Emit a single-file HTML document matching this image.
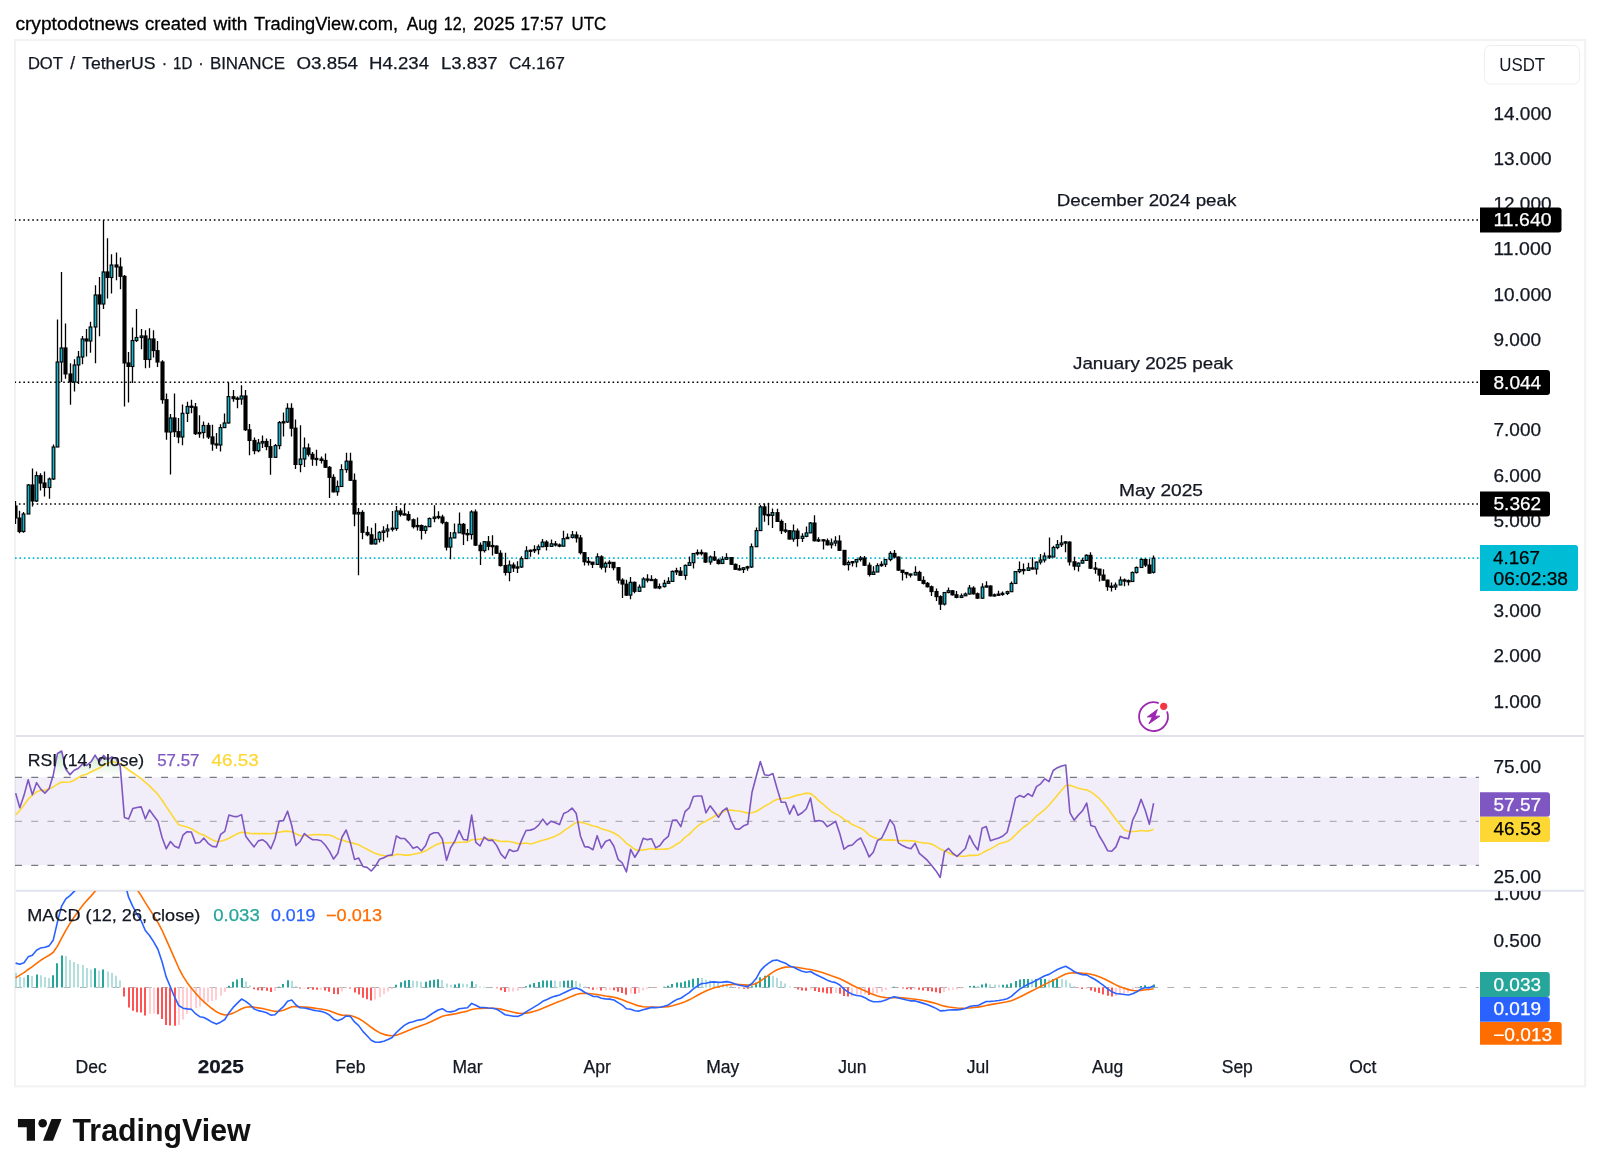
<!DOCTYPE html>
<html><head><meta charset="utf-8"><title>DOT / TetherUS chart</title>
<style>
html,body{margin:0;padding:0;background:#fff;}
body{width:1600px;height:1175px;position:relative;overflow:hidden;font-family:"Liberation Sans", Arial, sans-serif;}
svg{position:absolute;left:0;top:0;will-change:transform;}
</style></head><body>
<svg width="1600" height="1175" viewBox="0 0 1600 1175" font-family='"Liberation Sans", Arial, sans-serif'>
<defs>
<clipPath id="cMain"><rect x="15" y="40" width="1464" height="695.5"/></clipPath>
<clipPath id="cRsi"><rect x="15" y="736.3" width="1464" height="153.7"/></clipPath>
<clipPath id="cMacd"><rect x="15" y="891" width="1464" height="157"/></clipPath>
<clipPath id="cMacdAx"><rect x="1480" y="891" width="105" height="60"/></clipPath>
</defs>
<rect x="0" y="0" width="1600" height="1175" fill="#fff"/>
<text y="29.5" font-size="18" fill="#000" stroke="#000" stroke-width="0.3"><tspan x="15.4" textLength="123.5" lengthAdjust="spacingAndGlyphs">cryptodotnews</tspan><tspan x="145.1" textLength="61.6" lengthAdjust="spacingAndGlyphs">created</tspan><tspan x="213.5" textLength="33.9" lengthAdjust="spacingAndGlyphs">with</tspan><tspan x="254.0" textLength="144.0" lengthAdjust="spacingAndGlyphs">TradingView.com,</tspan><tspan x="406.8" textLength="30.5" lengthAdjust="spacingAndGlyphs">Aug</tspan><tspan x="443.8" textLength="22.4" lengthAdjust="spacingAndGlyphs">12,</tspan><tspan x="473.2" textLength="41.6" lengthAdjust="spacingAndGlyphs">2025</tspan><tspan x="520.6" textLength="42.8" lengthAdjust="spacingAndGlyphs">17:57</tspan><tspan x="571.5" textLength="34.7" lengthAdjust="spacingAndGlyphs">UTC</tspan></text>
<rect x="15" y="40" width="1570.2" height="1046.4" fill="#fff" stroke="#f2f2f2" stroke-width="2"/>
<line x1="16" y1="736" x2="1584.2" y2="736" stroke="#e0e3eb" stroke-width="1.9"/>
<line x1="16" y1="890.7" x2="1584.2" y2="890.7" stroke="#e0e3eb" stroke-width="1.9"/>
<rect x="1484.5" y="45.5" width="95" height="38.5" rx="6" fill="#fff" stroke="#eeeeee"/>
<text x="1499.2" y="71" font-size="17.8" fill="#131722" textLength="46" lengthAdjust="spacingAndGlyphs">USDT</text>
<g clip-path="url(#cMain)">
<line x1="15" y1="220.0" x2="1479" y2="220.0" stroke="#000" stroke-width="1.6" stroke-dasharray="1.6 2.83" stroke-dashoffset="0.5"/>
<line x1="15" y1="382.25" x2="1479" y2="382.25" stroke="#000" stroke-width="1.6" stroke-dasharray="1.6 2.83" stroke-dashoffset="0.5"/>
<line x1="15" y1="504.0" x2="1479" y2="504.0" stroke="#000" stroke-width="1.6" stroke-dasharray="1.6 2.83" stroke-dashoffset="0.5"/>
<line x1="15" y1="558.1" x2="1479" y2="558.1" stroke="#00bcd4" stroke-width="1.6" stroke-dasharray="1.6 2.83"/>
<text x="1056.8" y="206.4" font-size="16.8" fill="#131722" textLength="179.6" lengthAdjust="spacingAndGlyphs" stroke="#131722" stroke-width="0.25">December 2024 peak</text>
<text x="1073" y="368.5" font-size="16.8" fill="#131722" textLength="160" lengthAdjust="spacingAndGlyphs" stroke="#131722" stroke-width="0.25">January 2025 peak</text>
<text x="1119" y="496" font-size="16.8" fill="#131722" textLength="84" lengthAdjust="spacingAndGlyphs" stroke="#131722" stroke-width="0.25">May 2025</text>
<path d="M15.50 501.0V524.0M19.50 510.7V533.3M23.50 512.0V532.7M28.50 484.0V514.0M32.50 468.5V506.5M36.50 471.4V502.0M40.50 473.2V490.5M44.50 471.4V496.4M49.50 477.4V498.8M53.50 444.6V480.0M57.50 319.6V447.0M61.50 272.0V382.0M65.50 323.5V378.7M70.50 363.2V404.7M74.50 359.3V391.4M78.50 351.0V384.0M82.50 336.0V364.3M86.50 329.0V356.6M90.50 321.8V352.7M95.50 285.3V363.2M99.50 277.0V336.2M103.50 220.0V309.1M107.50 238.2V298.6M111.50 254.3V293.6M116.50 252.6V280.3M120.50 257.6V289.2M124.50 275.0V406.4M128.50 352.0V402.5M132.50 327.4V383.0M136.50 309.0V342.0M141.50 328.9V349.3M145.50 330.2V368.3M149.50 328.2V367.7M153.50 330.2V357.4M157.50 341.1V367.0M162.50 360.2V403.7M166.50 393.5V439.8M170.50 414.0V474.5M174.50 393.5V437.0M178.50 418.0V443.2M182.50 404.4V445.3M187.50 401.7V422.0M191.50 399.7V413.3M195.50 403.0V435.0M199.50 415.3V437.8M203.50 421.4V438.5M208.50 422.8V439.0M212.50 424.8V450.7M216.50 433.0V448.7M220.50 424.2V451.4M224.50 413.4V428.0M228.50 382.3V423.5M233.50 390.0V401.7M237.50 396.6V408.3M241.50 385.3V404.7M245.50 390.0V431.0M249.50 424.1V455.3M254.50 437.4V454.3M258.50 439.0V452.2M262.50 435.4V448.1M266.50 438.4V450.2M270.50 439.0V474.7M275.50 444.0V458.0M279.50 421.0V449.2M283.50 412.4V436.4M287.50 403.2V423.0M291.50 403.2V436.4M295.50 419.5V469.1M300.50 425.2V472.2M304.50 437.4V467.0M308.50 443.6V456.6M312.50 452.0V465.8M316.50 449.7V465.8M321.50 456.6V463.5M325.50 453.6V468.0M329.50 466.0V498.0M333.50 474.2V492.6M337.50 480.4V495.7M341.50 464.3V487.0M346.50 452.8V472.7M350.50 452.8V481.0M354.50 473.5V526.3M358.50 507.9V575.3M362.50 510.2V539.3M367.50 526.3V536.2M371.50 527.8V544.6M375.50 523.2V544.5M379.50 530.9V542.4M383.50 526.3V541.6M387.50 524.3V537.5M392.50 511.0V531.4M396.50 505.9V530.7M400.50 508.3V516.4M404.50 503.9V515.4M408.50 511.3V521.2M413.50 518.5V528.4M417.50 517.5V530.4M421.50 524.6V539.6M425.50 525.6V533.8M429.50 517.5V527.0M434.50 505.2V522.2M438.50 511.3V519.2M442.50 514.7V524.3M446.50 521.5V550.5M450.50 532.1V559.3M454.50 523.6V538.2M459.50 512.4V533.1M463.50 523.0V545.0M467.50 529.0V541.3M471.50 510.3V539.6M475.50 509.6V546.0M480.50 542.5V565.1M484.50 541.0V552.5M488.50 536.0V550.2M492.50 535.2V555.5M496.50 545.6V554.0M500.50 550.2V566.6M505.50 552.8V575.4M509.50 560.5V581.2M513.50 562.4V572.0M517.50 561.3V573.1M521.50 556.3V568.0M526.50 546.3V559.0M530.50 549.4V556.7M534.50 545.2V553.0M538.50 544.4V554.4M542.50 539.0V547.0M546.50 540.2V550.6M551.50 539.4V547.0M555.50 541.0V546.4M559.50 543.4V547.2M563.50 530.7V546.2M567.50 533.4V539.1M572.50 531.1V538.4M576.50 531.5V542.6M580.50 535.0V554.5M584.50 552.0V565.6M588.50 557.0V565.6M592.50 562.0V567.9M597.50 553.3V564.5M601.50 555.2V569.4M605.50 561.4V572.5M609.50 560.2V567.9M613.50 562.4V570.2M618.50 567.0V583.6M622.50 578.2V598.1M626.50 579.7V596.0M630.50 577.1V599.3M634.50 581.5V593.3M639.50 584.5V592.0M643.50 577.3V587.1M647.50 574.2V582.4M651.50 575.3V581.0M655.50 578.3V588.5M659.50 583.4V589.2M664.50 579.7V587.5M668.50 577.3V584.0M672.50 570.5V582.0M676.50 567.8V574.9M680.50 567.1V576.0M685.50 564.5V579.7M689.50 556.5V565.5M693.50 553.0V568.5M697.50 549.4V555.5M701.50 549.4V555.5M705.50 552.5V563.0M710.50 555.5V564.7M714.50 550.9V561.0M718.50 558.5V564.5M722.50 556.3V563.5M726.50 553.2V559.3M731.50 557.5V565.0M735.50 563.5V570.0M739.50 565.1V570.4M743.50 567.0V573.1M747.50 565.8V570.8M751.50 543.6V568.0M756.50 527.6V547.0M760.50 505.0V531.0M764.50 503.4V521.8M768.50 502.7V525.3M772.50 508.4V527.9M777.50 508.8V522.0M781.50 519.5V534.1M785.50 523.0V532.9M789.50 530.0V539.4M793.50 524.5V541.7M797.50 528.5V546.5M802.50 533.3V542.1M806.50 526.4V537.3M810.50 522.0V533.0M814.50 515.2V541.5M818.50 537.3V542.1M823.50 539.0V549.6M827.50 538.4V545.5M831.50 538.4V548.6M835.50 536.3V546.2M839.50 535.3V551.0M844.50 550.0V565.5M848.50 560.5V570.4M852.50 561.5V566.6M856.50 559.0V567.3M860.50 556.0V561.5M864.50 556.0V566.0M869.50 562.5V576.5M873.50 566.3V575.0M877.50 563.3V572.0M881.50 561.2V566.7M885.50 559.0V567.0M890.50 551.3V561.2M894.50 550.0V558.5M898.50 556.5V571.0M902.50 570.0V580.6M906.50 572.0V578.2M910.50 573.5V577.5M915.50 566.3V575.2M919.50 570.7V581.0M923.50 576.2V584.4M927.50 582.0V587.5M931.50 585.5V595.9M936.50 588.4V601.0M940.50 595.2V609.9M944.50 592.0V605.5M948.50 587.5V593.2M952.50 590.1V595.5M956.50 591.0V598.2M961.50 593.4V598.0M965.50 592.5V596.0M969.50 584.9V594.5M973.50 586.3V594.5M977.50 592.4V599.0M982.50 583.2V598.5M986.50 581.2V587.5M990.50 585.2V596.5M994.50 593.5V596.5M998.50 590.7V595.5M1002.50 591.4V595.8M1007.50 590.7V595.1M1011.50 581.5V591.7M1015.50 571.0V583.5M1019.50 561.4V573.3M1023.50 563.5V574.4M1028.50 562.8V570.5M1032.50 557.3V569.6M1036.50 561.5V574.4M1040.50 553.9V564.5M1044.50 552.6V562.4M1049.50 537.6V559.0M1053.50 545.8V557.0M1057.50 540.0V549.2M1061.50 535.2V547.1M1065.50 541.0V552.2M1069.50 541.5V565.5M1074.50 556.7V570.3M1078.50 562.5V571.6M1082.50 557.7V563.5M1086.50 554.3V560.5M1090.50 552.2V569.0M1095.50 562.1V573.7M1099.50 569.0V581.5M1103.50 569.2V580.5M1107.50 579.5V590.7M1111.50 582.5V591.4M1115.50 582.5V590.0M1120.50 576.6V585.0M1124.50 578.4V586.2M1128.50 579.4V585.6M1132.50 571.6V581.5M1136.50 566.6V573.4M1141.50 558.4V567.5M1145.50 558.4V566.9M1149.50 559.0V573.5M1153.50 555.6V573.5" stroke="#000" stroke-width="1.3" fill="none"/>
<g fill="#000"><rect x="13.45" y="505.4" width="4.1" height="13.1"/><rect x="17.45" y="517.5" width="4.1" height="14.6"/><rect x="30.45" y="484.4" width="4.1" height="17.1"/><rect x="38.45" y="475.1" width="4.1" height="8.5"/><rect x="42.45" y="482.4" width="4.1" height="5.6"/><rect x="63.45" y="347.4" width="4.1" height="27.1"/><rect x="68.45" y="373.4" width="4.1" height="9.1"/><rect x="84.45" y="338.4" width="4.1" height="3.1"/><rect x="97.45" y="294.4" width="4.1" height="10.1"/><rect x="105.45" y="271.4" width="4.1" height="6.6"/><rect x="114.45" y="264.4" width="4.1" height="3.1"/><rect x="118.45" y="266.4" width="4.1" height="10.5"/><rect x="122.45" y="275.8" width="4.1" height="87.7"/><rect x="126.45" y="362.4" width="4.1" height="4.6"/><rect x="143.45" y="335.4" width="4.1" height="24.6"/><rect x="151.45" y="338.4" width="4.1" height="12.7"/><rect x="155.45" y="350.1" width="4.1" height="12.5"/><rect x="160.45" y="361.4" width="4.1" height="38.8"/><rect x="164.45" y="399.1" width="4.1" height="33.4"/><rect x="172.45" y="417.4" width="4.1" height="14.8"/><rect x="176.45" y="431.1" width="4.1" height="6.4"/><rect x="189.45" y="405.6" width="4.1" height="2.3"/><rect x="193.45" y="406.4" width="4.1" height="27.8"/><rect x="206.45" y="424.9" width="4.1" height="12.6"/><rect x="210.45" y="436.4" width="4.1" height="8.1"/><rect x="214.45" y="443.3" width="4.1" height="2.3"/><rect x="231.45" y="396.1" width="4.1" height="3.1"/><rect x="235.45" y="397.6" width="4.1" height="2.3"/><rect x="243.45" y="395.4" width="4.1" height="34.9"/><rect x="247.45" y="429.2" width="4.1" height="11.8"/><rect x="252.45" y="439.9" width="4.1" height="11.3"/><rect x="264.45" y="440.9" width="4.1" height="6.2"/><rect x="268.45" y="446.1" width="4.1" height="11.8"/><rect x="289.45" y="407.8" width="4.1" height="21.0"/><rect x="293.45" y="427.6" width="4.1" height="37.4"/><rect x="306.45" y="447.4" width="4.1" height="7.4"/><rect x="310.45" y="453.8" width="4.1" height="5.8"/><rect x="319.45" y="458.4" width="4.1" height="2.6"/><rect x="323.45" y="459.9" width="4.1" height="7.9"/><rect x="327.45" y="466.8" width="4.1" height="11.1"/><rect x="331.45" y="476.8" width="4.1" height="15.6"/><rect x="348.45" y="460.6" width="4.1" height="20.3"/><rect x="352.45" y="479.8" width="4.1" height="34.7"/><rect x="360.45" y="511.9" width="4.1" height="21.0"/><rect x="365.45" y="531.9" width="4.1" height="3.4"/><rect x="369.45" y="534.2" width="4.1" height="10.3"/><rect x="398.45" y="510.4" width="4.1" height="4.5"/><rect x="402.45" y="513.3" width="4.1" height="2.3"/><rect x="406.45" y="514.0" width="4.1" height="6.4"/><rect x="411.45" y="519.2" width="4.1" height="8.0"/><rect x="419.45" y="525.0" width="4.1" height="6.0"/><rect x="440.45" y="516.5" width="4.1" height="6.7"/><rect x="444.45" y="522.1" width="4.1" height="25.6"/><rect x="461.45" y="523.8" width="4.1" height="10.6"/><rect x="465.45" y="533.0" width="4.1" height="2.3"/><rect x="473.45" y="511.4" width="4.1" height="34.3"/><rect x="478.45" y="544.7" width="4.1" height="6.5"/><rect x="486.45" y="541.2" width="4.1" height="5.7"/><rect x="494.45" y="545.5" width="4.1" height="8.3"/><rect x="498.45" y="552.7" width="4.1" height="13.4"/><rect x="503.45" y="565.0" width="4.1" height="8.0"/><rect x="511.45" y="564.5" width="4.1" height="4.0"/><rect x="544.45" y="541.5" width="4.1" height="5.5"/><rect x="553.45" y="543.3" width="4.1" height="2.3"/><rect x="557.45" y="544.4" width="4.1" height="2.3"/><rect x="574.45" y="534.4" width="4.1" height="4.1"/><rect x="578.45" y="537.4" width="4.1" height="15.8"/><rect x="582.45" y="552.1" width="4.1" height="10.2"/><rect x="586.45" y="560.8" width="4.1" height="2.3"/><rect x="590.45" y="561.6" width="4.1" height="3.3"/><rect x="599.45" y="556.3" width="4.1" height="11.5"/><rect x="611.45" y="561.8" width="4.1" height="6.4"/><rect x="616.45" y="567.1" width="4.1" height="13.5"/><rect x="620.45" y="579.5" width="4.1" height="5.1"/><rect x="624.45" y="583.6" width="4.1" height="12.1"/><rect x="632.45" y="581.8" width="4.1" height="10.1"/><rect x="645.45" y="578.4" width="4.1" height="2.4"/><rect x="653.45" y="579.1" width="4.1" height="9.4"/><rect x="678.45" y="570.6" width="4.1" height="5.3"/><rect x="703.45" y="552.5" width="4.1" height="10.1"/><rect x="712.45" y="556.5" width="4.1" height="4.1"/><rect x="716.45" y="559.5" width="4.1" height="4.6"/><rect x="729.45" y="557.0" width="4.1" height="7.9"/><rect x="733.45" y="563.8" width="4.1" height="6.1"/><rect x="737.45" y="568.2" width="4.1" height="2.3"/><rect x="762.45" y="506.3" width="4.1" height="9.1"/><rect x="766.45" y="513.9" width="4.1" height="2.3"/><rect x="775.45" y="512.1" width="4.1" height="9.9"/><rect x="779.45" y="520.9" width="4.1" height="10.3"/><rect x="787.45" y="530.1" width="4.1" height="9.5"/><rect x="795.45" y="530.5" width="4.1" height="8.5"/><rect x="812.45" y="522.5" width="4.1" height="18.8"/><rect x="821.45" y="539.2" width="4.1" height="2.3"/><rect x="825.45" y="540.2" width="4.1" height="5.2"/><rect x="837.45" y="540.5" width="4.1" height="10.4"/><rect x="842.45" y="549.8" width="4.1" height="15.4"/><rect x="862.45" y="557.5" width="4.1" height="8.3"/><rect x="867.45" y="564.7" width="4.1" height="10.3"/><rect x="892.45" y="552.9" width="4.1" height="4.7"/><rect x="896.45" y="556.5" width="4.1" height="14.2"/><rect x="900.45" y="569.6" width="4.1" height="3.4"/><rect x="904.45" y="571.9" width="4.1" height="2.7"/><rect x="908.45" y="573.4" width="4.1" height="2.3"/><rect x="917.45" y="571.9" width="4.1" height="9.0"/><rect x="921.45" y="579.8" width="4.1" height="4.1"/><rect x="925.45" y="582.8" width="4.1" height="4.5"/><rect x="929.45" y="586.2" width="4.1" height="5.9"/><rect x="934.45" y="591.0" width="4.1" height="6.2"/><rect x="938.45" y="596.1" width="4.1" height="8.6"/><rect x="950.45" y="590.2" width="4.1" height="5.2"/><rect x="954.45" y="594.2" width="4.1" height="3.8"/><rect x="971.45" y="587.5" width="4.1" height="6.9"/><rect x="975.45" y="593.2" width="4.1" height="5.5"/><rect x="988.45" y="585.5" width="4.1" height="10.9"/><rect x="1021.45" y="568.9" width="4.1" height="2.3"/><rect x="1030.45" y="567.3" width="4.1" height="2.3"/><rect x="1047.45" y="555.4" width="4.1" height="2.3"/><rect x="1067.45" y="541.5" width="4.1" height="20.9"/><rect x="1072.45" y="561.2" width="4.1" height="5.5"/><rect x="1088.45" y="554.8" width="4.1" height="14.0"/><rect x="1093.45" y="567.5" width="4.1" height="2.3"/><rect x="1097.45" y="568.5" width="4.1" height="7.1"/><rect x="1101.45" y="574.5" width="4.1" height="6.2"/><rect x="1105.45" y="579.6" width="4.1" height="7.6"/><rect x="1109.45" y="585.6" width="4.1" height="2.3"/><rect x="1122.45" y="579.4" width="4.1" height="2.3"/><rect x="1126.45" y="580.1" width="4.1" height="2.3"/><rect x="1143.45" y="558.9" width="4.1" height="6.7"/><rect x="1147.45" y="564.5" width="4.1" height="9.2"/></g>
<g fill="#00bcd4" stroke="#000" stroke-width="1.15"><rect x="22.15" y="514.0" width="2.7" height="17.5"/><rect x="27.15" y="485.0" width="2.7" height="29.0"/><rect x="35.15" y="475.6" width="2.7" height="25.4"/><rect x="48.15" y="479.0" width="2.7" height="8.5"/><rect x="52.15" y="447.0" width="2.7" height="32.0"/><rect x="56.15" y="362.0" width="2.7" height="85.0"/><rect x="60.15" y="348.0" width="2.7" height="14.0"/><rect x="73.15" y="365.0" width="2.7" height="17.0"/><rect x="77.15" y="357.0" width="2.7" height="8.0"/><rect x="81.15" y="339.0" width="2.7" height="18.0"/><rect x="89.15" y="327.0" width="2.7" height="14.0"/><rect x="94.15" y="295.0" width="2.7" height="32.0"/><rect x="102.15" y="272.0" width="2.7" height="32.0"/><rect x="110.15" y="265.0" width="2.7" height="12.5"/><rect x="131.15" y="340.5" width="2.7" height="26.0"/><rect x="135.15" y="337.5" width="2.7" height="3.0"/><rect x="140.15" y="336.0" width="2.7" height="1.5"/><rect x="148.15" y="339.0" width="2.7" height="20.5"/><rect x="169.15" y="418.0" width="2.7" height="14.0"/><rect x="181.15" y="413.3" width="2.7" height="23.7"/><rect x="186.15" y="406.5" width="2.7" height="6.8"/><rect x="198.15" y="432.5" width="2.7" height="1.2"/><rect x="202.15" y="425.5" width="2.7" height="7.0"/><rect x="219.15" y="427.6" width="2.7" height="17.4"/><rect x="223.15" y="423.0" width="2.7" height="4.6"/><rect x="227.15" y="396.6" width="2.7" height="26.4"/><rect x="240.15" y="396.0" width="2.7" height="3.0"/><rect x="257.15" y="443.0" width="2.7" height="7.7"/><rect x="261.15" y="441.5" width="2.7" height="1.5"/><rect x="274.15" y="445.6" width="2.7" height="11.7"/><rect x="278.15" y="422.6" width="2.7" height="23.0"/><rect x="282.15" y="421.7" width="2.7" height="1.2"/><rect x="286.15" y="408.3" width="2.7" height="13.7"/><rect x="299.15" y="459.0" width="2.7" height="5.5"/><rect x="303.15" y="448.0" width="2.7" height="11.0"/><rect x="315.15" y="458.4" width="2.7" height="1.2"/><rect x="336.15" y="486.5" width="2.7" height="5.3"/><rect x="340.15" y="469.6" width="2.7" height="16.9"/><rect x="345.15" y="461.2" width="2.7" height="8.4"/><rect x="357.15" y="512.5" width="2.7" height="1.5"/><rect x="374.15" y="539.3" width="2.7" height="4.6"/><rect x="378.15" y="532.4" width="2.7" height="6.9"/><rect x="382.15" y="531.0" width="2.7" height="1.4"/><rect x="386.15" y="529.0" width="2.7" height="2.0"/><rect x="391.15" y="528.1" width="2.7" height="1.2"/><rect x="395.15" y="511.0" width="2.7" height="17.5"/><rect x="416.15" y="525.5" width="2.7" height="1.2"/><rect x="424.15" y="526.7" width="2.7" height="3.7"/><rect x="428.15" y="518.5" width="2.7" height="8.2"/><rect x="433.15" y="517.0" width="2.7" height="1.5"/><rect x="437.15" y="516.4" width="2.7" height="1.2"/><rect x="449.15" y="537.9" width="2.7" height="9.2"/><rect x="453.15" y="532.8" width="2.7" height="5.1"/><rect x="458.15" y="524.3" width="2.7" height="8.5"/><rect x="470.15" y="512.0" width="2.7" height="22.5"/><rect x="483.15" y="541.7" width="2.7" height="8.9"/><rect x="491.15" y="545.5" width="2.7" height="1.2"/><rect x="508.15" y="565.0" width="2.7" height="7.4"/><rect x="516.15" y="566.9" width="2.7" height="1.2"/><rect x="520.15" y="558.6" width="2.7" height="8.4"/><rect x="525.15" y="550.9" width="2.7" height="7.7"/><rect x="529.15" y="550.2" width="2.7" height="1.2"/><rect x="533.15" y="549.5" width="2.7" height="1.2"/><rect x="537.15" y="546.8" width="2.7" height="2.8"/><rect x="541.15" y="542.1" width="2.7" height="4.7"/><rect x="550.15" y="543.8" width="2.7" height="2.6"/><rect x="562.15" y="538.7" width="2.7" height="7.5"/><rect x="566.15" y="537.4" width="2.7" height="1.3"/><rect x="571.15" y="534.9" width="2.7" height="2.5"/><rect x="596.15" y="556.8" width="2.7" height="7.6"/><rect x="604.15" y="563.4" width="2.7" height="3.7"/><rect x="608.15" y="562.3" width="2.7" height="1.2"/><rect x="629.15" y="582.3" width="2.7" height="12.8"/><rect x="638.15" y="587.1" width="2.7" height="4.2"/><rect x="642.15" y="579.0" width="2.7" height="8.1"/><rect x="650.15" y="579.4" width="2.7" height="1.2"/><rect x="658.15" y="586.6" width="2.7" height="1.4"/><rect x="663.15" y="583.3" width="2.7" height="3.3"/><rect x="667.15" y="581.4" width="2.7" height="1.9"/><rect x="671.15" y="571.4" width="2.7" height="10.0"/><rect x="675.15" y="570.7" width="2.7" height="1.2"/><rect x="684.15" y="565.4" width="2.7" height="10.0"/><rect x="688.15" y="562.7" width="2.7" height="2.7"/><rect x="692.15" y="553.5" width="2.7" height="9.2"/><rect x="696.15" y="552.6" width="2.7" height="1.2"/><rect x="700.15" y="552.4" width="2.7" height="1.2"/><rect x="709.15" y="557.0" width="2.7" height="5.0"/><rect x="721.15" y="559.3" width="2.7" height="4.2"/><rect x="725.15" y="557.5" width="2.7" height="1.8"/><rect x="742.15" y="567.8" width="2.7" height="1.7"/><rect x="746.15" y="566.8" width="2.7" height="1.2"/><rect x="750.15" y="546.7" width="2.7" height="20.3"/><rect x="755.15" y="530.6" width="2.7" height="16.1"/><rect x="759.15" y="506.9" width="2.7" height="23.7"/><rect x="771.15" y="512.6" width="2.7" height="2.7"/><rect x="784.15" y="530.0" width="2.7" height="1.2"/><rect x="792.15" y="531.0" width="2.7" height="8.0"/><rect x="801.15" y="536.3" width="2.7" height="2.1"/><rect x="805.15" y="532.9" width="2.7" height="3.4"/><rect x="809.15" y="523.0" width="2.7" height="9.9"/><rect x="817.15" y="539.8" width="2.7" height="1.2"/><rect x="830.15" y="543.0" width="2.7" height="1.8"/><rect x="834.15" y="541.0" width="2.7" height="2.0"/><rect x="847.15" y="562.5" width="2.7" height="2.1"/><rect x="851.15" y="561.6" width="2.7" height="1.2"/><rect x="855.15" y="559.5" width="2.7" height="2.5"/><rect x="859.15" y="558.0" width="2.7" height="1.5"/><rect x="872.15" y="572.0" width="2.7" height="2.4"/><rect x="876.15" y="565.6" width="2.7" height="6.4"/><rect x="880.15" y="564.3" width="2.7" height="1.3"/><rect x="884.15" y="559.5" width="2.7" height="4.8"/><rect x="889.15" y="553.4" width="2.7" height="6.1"/><rect x="914.15" y="572.4" width="2.7" height="2.6"/><rect x="943.15" y="592.5" width="2.7" height="11.6"/><rect x="947.15" y="590.7" width="2.7" height="1.8"/><rect x="960.15" y="595.8" width="2.7" height="1.7"/><rect x="964.15" y="594.0" width="2.7" height="1.8"/><rect x="968.15" y="588.0" width="2.7" height="6.0"/><rect x="981.15" y="587.0" width="2.7" height="11.2"/><rect x="985.15" y="585.9" width="2.7" height="1.2"/><rect x="993.15" y="594.8" width="2.7" height="1.2"/><rect x="997.15" y="594.1" width="2.7" height="1.2"/><rect x="1001.15" y="593.3" width="2.7" height="1.2"/><rect x="1006.15" y="591.7" width="2.7" height="1.7"/><rect x="1010.15" y="583.5" width="2.7" height="8.2"/><rect x="1014.15" y="571.6" width="2.7" height="11.9"/><rect x="1018.15" y="569.6" width="2.7" height="2.0"/><rect x="1027.15" y="567.9" width="2.7" height="2.5"/><rect x="1035.15" y="562.1" width="2.7" height="6.9"/><rect x="1039.15" y="560.0" width="2.7" height="2.1"/><rect x="1043.15" y="556.0" width="2.7" height="4.0"/><rect x="1052.15" y="547.5" width="2.7" height="9.5"/><rect x="1056.15" y="544.7" width="2.7" height="2.8"/><rect x="1060.15" y="543.0" width="2.7" height="1.7"/><rect x="1064.15" y="541.9" width="2.7" height="1.2"/><rect x="1077.15" y="563.1" width="2.7" height="3.1"/><rect x="1081.15" y="560.4" width="2.7" height="2.7"/><rect x="1085.15" y="555.3" width="2.7" height="5.1"/><rect x="1114.15" y="585.0" width="2.7" height="2.0"/><rect x="1119.15" y="580.0" width="2.7" height="5.0"/><rect x="1131.15" y="572.5" width="2.7" height="9.0"/><rect x="1135.15" y="567.5" width="2.7" height="5.0"/><rect x="1140.15" y="559.4" width="2.7" height="8.1"/><rect x="1152.15" y="558.2" width="2.7" height="14.1"/></g>
</g>
<g clip-path="url(#cRsi)">
<rect x="15" y="777.3" width="1464" height="88" fill="#7e57c2" fill-opacity="0.1"/>
<line x1="15" y1="777.3" x2="1479" y2="777.3" stroke="#787b86" stroke-width="1.3" stroke-dasharray="7 9.23"/>
<line x1="15" y1="821.3" x2="1479" y2="821.3" stroke="#787b86" stroke-opacity="0.55" stroke-width="1.3" stroke-dasharray="7 9.23"/>
<line x1="15" y1="865.3" x2="1479" y2="865.3" stroke="#787b86" stroke-width="1.3" stroke-dasharray="7 9.23"/>
<defs><linearGradient id="gob" gradientUnits="userSpaceOnUse" x1="0" y1="711.3" x2="0" y2="777.3"><stop offset="0" stop-color="#4caf50" stop-opacity="0.75"/><stop offset="1" stop-color="#4caf50" stop-opacity="0"/></linearGradient><linearGradient id="gos" gradientUnits="userSpaceOnUse" x1="0" y1="865.3" x2="0" y2="931.3"><stop offset="0" stop-color="#f23645" stop-opacity="0"/><stop offset="1" stop-color="#f23645" stop-opacity="0.3"/></linearGradient><clipPath id="cOB"><rect x="15" y="736" width="1464" height="41.3"/></clipPath><clipPath id="cOS"><rect x="15" y="865.3" width="1464" height="26"/></clipPath></defs>
<polygon points="15,777.3 15.63,793.15 19.81,807.70 24.00,795.34 28.18,779.70 32.36,794.80 36.55,782.65 40.73,789.14 44.92,793.09 49.10,788.71 53.28,774.91 57.47,753.43 61.65,751.05 65.83,769.35 70.02,774.63 74.20,770.23 78.39,768.23 82.57,763.91 86.75,765.41 90.94,761.97 95.12,755.11 99.30,762.05 103.49,755.40 107.67,759.57 111.86,756.92 116.04,758.55 120.22,766.36 124.41,817.43 128.59,818.94 132.77,808.59 136.96,807.45 141.14,806.84 145.32,818.83 149.51,809.90 153.69,815.75 157.88,821.35 162.06,837.53 166.24,848.75 170.43,841.48 174.61,846.22 178.79,848.05 182.98,835.21 187.16,831.72 191.35,831.94 195.53,843.22 199.71,842.50 203.90,838.15 208.08,843.31 212.26,846.40 216.45,846.86 220.63,834.47 224.81,831.34 229.00,815.07 233.18,816.34 237.37,816.61 241.55,814.65 245.73,836.16 249.92,841.78 254.10,846.90 258.28,840.88 262.47,839.68 266.65,842.68 270.84,848.78 275.02,838.47 279.20,821.04 283.39,820.62 287.57,811.20 291.75,825.47 295.94,845.49 300.12,841.47 304.31,833.58 308.49,837.10 312.67,839.75 316.86,839.75 321.04,840.70 325.22,845.04 329.41,851.12 333.59,859.07 337.77,853.52 341.96,837.27 346.14,830.01 350.33,842.59 354.51,859.42 358.69,858.09 362.88,866.46 367.06,867.37 371.24,871.02 375.43,866.26 379.61,859.14 383.80,857.68 387.98,855.47 392.16,854.89 396.35,835.93 400.53,838.50 404.71,838.57 408.90,842.87 413.08,848.26 417.27,846.71 421.45,850.71 425.63,845.55 429.82,834.65 434.00,832.70 438.18,832.70 442.37,839.00 446.55,860.34 450.73,847.60 454.92,840.98 459.10,830.58 463.29,839.44 467.47,840.08 471.65,815.15 475.84,842.48 480.02,845.99 484.20,837.15 488.39,840.47 492.57,840.15 496.76,845.62 500.94,854.14 505.12,858.51 509.31,849.52 513.49,851.57 517.67,850.41 521.86,839.61 526.04,830.48 530.23,830.13 534.41,828.75 538.59,825.13 542.78,819.13 546.96,824.78 551.14,821.23 555.33,822.84 559.51,824.58 563.69,813.49 567.88,811.64 572.06,808.04 576.25,813.59 580.43,835.93 584.61,846.66 588.80,847.12 592.98,849.73 597.16,835.67 601.35,848.06 605.53,841.50 609.72,839.62 613.90,846.27 618.08,859.35 622.27,863.02 626.45,871.91 630.63,849.37 634.82,857.26 639.00,850.51 643.18,838.32 647.37,839.65 651.55,838.77 655.74,847.87 659.92,845.49 664.10,839.81 668.29,836.43 672.47,820.42 676.65,820.10 680.84,826.63 685.02,811.62 689.21,807.95 693.39,796.53 697.57,795.94 701.76,795.94 705.94,812.92 710.12,805.83 714.31,811.24 718.49,817.42 722.68,810.80 726.86,808.02 731.04,820.61 735.23,828.90 739.41,829.23 743.59,825.86 747.78,824.22 751.96,792.53 756.14,776.83 760.33,761.46 764.51,774.80 768.70,775.46 772.88,773.56 777.06,788.45 781.25,802.19 785.43,802.19 789.61,814.11 793.80,805.21 797.98,815.22 802.17,812.76 806.35,808.74 810.53,797.96 814.72,821.37 818.90,820.55 823.08,821.43 827.27,826.67 831.45,824.12 835.64,821.23 839.82,833.77 844.00,849.25 848.19,845.87 852.37,845.03 856.55,840.68 860.74,838.02 864.92,846.99 869.10,856.84 873.29,852.21 877.47,840.43 881.66,838.11 885.84,829.66 890.02,819.76 894.21,825.39 898.39,842.87 902.57,845.55 906.76,847.45 910.94,848.68 915.13,843.25 919.31,853.34 923.49,856.83 927.68,860.69 931.86,865.84 936.04,870.89 940.23,877.46 944.41,851.97 948.60,848.45 952.78,853.24 956.96,856.31 961.15,852.54 965.33,848.47 969.51,835.63 973.70,844.13 977.88,850.03 982.06,828.32 986.25,826.58 990.43,840.75 994.62,839.23 998.80,838.02 1002.98,835.92 1007.17,832.25 1011.35,816.18 1015.53,798.15 1019.72,795.53 1023.90,797.27 1028.09,793.71 1032.27,796.36 1036.45,786.57 1040.64,783.84 1044.82,778.81 1049.00,781.60 1053.19,770.50 1057.37,767.68 1061.56,765.97 1065.74,764.94 1069.92,812.57 1074.11,820.18 1078.29,815.13 1082.47,810.80 1086.66,803.02 1090.84,825.54 1095.02,826.77 1099.21,835.72 1103.39,842.66 1107.58,850.70 1111.76,851.19 1115.94,846.83 1120.13,836.33 1124.31,837.89 1128.49,838.71 1132.68,820.22 1136.86,811.52 1141.05,799.27 1145.23,810.29 1149.41,824.21 1153.60,803.25 1153.60,777.3" fill="url(#gob)" clip-path="url(#cOB)"/>
<polyline points="15.63,815.01 19.81,810.54 24.00,804.95 28.18,799.19 32.36,795.45 36.55,791.95 40.73,790.26 44.92,790.36 49.10,788.78 53.28,786.94 57.47,784.19 61.65,782.03 65.83,782.24 70.02,781.97 74.20,780.34 78.39,777.52 82.57,775.27 86.75,774.25 90.94,771.91 95.12,769.94 99.30,768.01 103.49,765.31 107.67,763.23 111.86,761.95 116.04,762.31 120.22,763.41 124.41,766.84 128.59,770.01 132.77,772.75 136.96,775.55 141.14,778.61 145.32,782.43 149.51,785.85 153.69,790.18 157.88,794.42 162.06,800.29 166.24,806.66 170.43,812.70 174.61,818.96 178.79,824.79 182.98,826.06 187.16,826.98 191.35,828.64 195.53,831.20 199.71,833.75 203.90,835.13 208.08,837.51 212.26,839.70 216.45,841.53 220.63,841.31 224.81,840.06 229.00,838.18 233.18,836.04 237.37,833.80 241.55,832.33 245.73,832.65 249.92,833.35 254.10,833.61 258.28,833.49 262.47,833.60 266.65,833.56 270.84,833.73 275.02,833.13 279.20,832.17 283.39,831.41 287.57,831.13 291.75,831.78 295.94,833.84 300.12,835.76 304.31,835.57 308.49,835.24 312.67,834.73 316.86,834.65 321.04,834.72 325.22,834.89 329.41,835.06 333.59,836.53 337.77,838.85 341.96,840.04 346.14,841.38 350.33,842.60 354.51,843.60 358.69,844.79 362.88,847.14 367.06,849.30 371.24,851.53 375.43,853.42 379.61,854.74 383.80,855.64 387.98,855.95 392.16,855.66 396.35,854.40 400.53,854.49 404.71,855.10 408.90,855.12 413.08,854.32 417.27,853.51 421.45,852.38 425.63,850.83 429.82,848.23 434.00,845.83 438.18,843.94 442.37,842.61 446.55,842.96 450.73,842.44 454.92,842.80 459.10,842.23 463.29,842.29 467.47,842.09 471.65,839.73 475.84,839.43 480.02,839.09 484.20,838.49 488.39,838.90 492.57,839.44 496.76,840.36 500.94,841.44 505.12,841.31 509.31,841.45 513.49,842.20 517.67,843.62 521.86,843.63 526.04,842.95 530.23,844.01 534.41,843.03 538.59,841.54 542.78,840.26 546.96,839.14 551.14,837.78 555.33,836.16 559.51,834.05 563.69,830.83 567.88,828.13 572.06,825.02 576.25,822.39 580.43,822.12 584.61,823.28 588.80,824.49 592.98,825.99 597.16,826.75 601.35,828.81 605.53,830.01 609.72,831.32 613.90,832.99 618.08,835.48 622.27,839.01 626.45,843.32 630.63,846.27 634.82,849.39 639.00,850.43 643.18,849.84 647.37,849.30 651.55,848.52 655.74,849.39 659.92,849.21 664.10,849.09 668.29,848.86 672.47,847.01 676.65,844.21 680.84,841.61 685.02,837.30 689.21,834.35 693.39,830.01 697.57,826.11 701.76,823.08 705.94,821.17 710.12,818.82 714.31,816.20 718.49,814.20 722.68,812.13 726.86,810.10 731.04,810.11 735.23,810.74 739.41,810.93 743.59,811.94 747.78,813.11 751.96,812.82 756.14,811.45 760.33,808.99 764.51,806.27 768.70,804.10 772.88,801.41 777.06,799.34 781.25,798.72 785.43,798.31 789.61,797.84 793.80,796.15 797.98,795.15 802.17,794.21 806.35,793.11 810.53,793.50 814.72,796.68 818.90,800.90 823.08,804.23 827.27,807.89 831.45,811.50 835.64,813.84 839.82,816.10 844.00,819.46 848.19,821.73 852.37,824.57 856.55,826.39 860.74,828.19 864.92,830.92 869.10,835.13 873.29,837.33 877.47,838.75 881.66,839.94 885.84,840.16 890.02,839.85 894.21,840.14 898.39,840.79 902.57,840.53 906.76,840.64 910.94,840.90 915.13,841.09 919.31,842.18 923.49,842.88 927.68,843.16 931.86,844.13 936.04,846.31 940.23,849.12 944.41,850.71 948.60,852.76 952.78,854.75 956.96,855.71 961.15,856.21 965.33,856.28 969.51,855.35 973.70,855.41 977.88,855.18 982.06,853.14 986.25,850.70 990.43,848.91 994.62,846.65 998.80,843.83 1002.98,842.69 1007.17,841.53 1011.35,838.88 1015.53,834.73 1019.72,830.66 1023.90,827.00 1028.09,824.00 1032.27,820.59 1036.45,816.06 1040.64,812.88 1044.82,809.47 1049.00,805.25 1053.19,800.34 1057.37,795.31 1061.56,790.32 1065.74,785.51 1069.92,785.25 1074.11,786.82 1078.29,788.22 1082.47,789.19 1086.66,789.85 1090.84,791.94 1095.02,794.81 1099.21,798.52 1103.39,803.08 1107.58,808.01 1111.76,813.78 1115.94,819.43 1120.13,824.46 1124.31,829.67 1128.49,831.53 1132.68,831.54 1136.86,831.28 1141.05,830.46 1145.23,830.97 1149.41,830.88 1153.60,829.20" fill="none" stroke="#fdd835" stroke-width="1.6" stroke-linejoin="round"/>
<polyline points="15.63,793.15 19.81,807.70 24.00,795.34 28.18,779.70 32.36,794.80 36.55,782.65 40.73,789.14 44.92,793.09 49.10,788.71 53.28,774.91 57.47,753.43 61.65,751.05 65.83,769.35 70.02,774.63 74.20,770.23 78.39,768.23 82.57,763.91 86.75,765.41 90.94,761.97 95.12,755.11 99.30,762.05 103.49,755.40 107.67,759.57 111.86,756.92 116.04,758.55 120.22,766.36 124.41,817.43 128.59,818.94 132.77,808.59 136.96,807.45 141.14,806.84 145.32,818.83 149.51,809.90 153.69,815.75 157.88,821.35 162.06,837.53 166.24,848.75 170.43,841.48 174.61,846.22 178.79,848.05 182.98,835.21 187.16,831.72 191.35,831.94 195.53,843.22 199.71,842.50 203.90,838.15 208.08,843.31 212.26,846.40 216.45,846.86 220.63,834.47 224.81,831.34 229.00,815.07 233.18,816.34 237.37,816.61 241.55,814.65 245.73,836.16 249.92,841.78 254.10,846.90 258.28,840.88 262.47,839.68 266.65,842.68 270.84,848.78 275.02,838.47 279.20,821.04 283.39,820.62 287.57,811.20 291.75,825.47 295.94,845.49 300.12,841.47 304.31,833.58 308.49,837.10 312.67,839.75 316.86,839.75 321.04,840.70 325.22,845.04 329.41,851.12 333.59,859.07 337.77,853.52 341.96,837.27 346.14,830.01 350.33,842.59 354.51,859.42 358.69,858.09 362.88,866.46 367.06,867.37 371.24,871.02 375.43,866.26 379.61,859.14 383.80,857.68 387.98,855.47 392.16,854.89 396.35,835.93 400.53,838.50 404.71,838.57 408.90,842.87 413.08,848.26 417.27,846.71 421.45,850.71 425.63,845.55 429.82,834.65 434.00,832.70 438.18,832.70 442.37,839.00 446.55,860.34 450.73,847.60 454.92,840.98 459.10,830.58 463.29,839.44 467.47,840.08 471.65,815.15 475.84,842.48 480.02,845.99 484.20,837.15 488.39,840.47 492.57,840.15 496.76,845.62 500.94,854.14 505.12,858.51 509.31,849.52 513.49,851.57 517.67,850.41 521.86,839.61 526.04,830.48 530.23,830.13 534.41,828.75 538.59,825.13 542.78,819.13 546.96,824.78 551.14,821.23 555.33,822.84 559.51,824.58 563.69,813.49 567.88,811.64 572.06,808.04 576.25,813.59 580.43,835.93 584.61,846.66 588.80,847.12 592.98,849.73 597.16,835.67 601.35,848.06 605.53,841.50 609.72,839.62 613.90,846.27 618.08,859.35 622.27,863.02 626.45,871.91 630.63,849.37 634.82,857.26 639.00,850.51 643.18,838.32 647.37,839.65 651.55,838.77 655.74,847.87 659.92,845.49 664.10,839.81 668.29,836.43 672.47,820.42 676.65,820.10 680.84,826.63 685.02,811.62 689.21,807.95 693.39,796.53 697.57,795.94 701.76,795.94 705.94,812.92 710.12,805.83 714.31,811.24 718.49,817.42 722.68,810.80 726.86,808.02 731.04,820.61 735.23,828.90 739.41,829.23 743.59,825.86 747.78,824.22 751.96,792.53 756.14,776.83 760.33,761.46 764.51,774.80 768.70,775.46 772.88,773.56 777.06,788.45 781.25,802.19 785.43,802.19 789.61,814.11 793.80,805.21 797.98,815.22 802.17,812.76 806.35,808.74 810.53,797.96 814.72,821.37 818.90,820.55 823.08,821.43 827.27,826.67 831.45,824.12 835.64,821.23 839.82,833.77 844.00,849.25 848.19,845.87 852.37,845.03 856.55,840.68 860.74,838.02 864.92,846.99 869.10,856.84 873.29,852.21 877.47,840.43 881.66,838.11 885.84,829.66 890.02,819.76 894.21,825.39 898.39,842.87 902.57,845.55 906.76,847.45 910.94,848.68 915.13,843.25 919.31,853.34 923.49,856.83 927.68,860.69 931.86,865.84 936.04,870.89 940.23,877.46 944.41,851.97 948.60,848.45 952.78,853.24 956.96,856.31 961.15,852.54 965.33,848.47 969.51,835.63 973.70,844.13 977.88,850.03 982.06,828.32 986.25,826.58 990.43,840.75 994.62,839.23 998.80,838.02 1002.98,835.92 1007.17,832.25 1011.35,816.18 1015.53,798.15 1019.72,795.53 1023.90,797.27 1028.09,793.71 1032.27,796.36 1036.45,786.57 1040.64,783.84 1044.82,778.81 1049.00,781.60 1053.19,770.50 1057.37,767.68 1061.56,765.97 1065.74,764.94 1069.92,812.57 1074.11,820.18 1078.29,815.13 1082.47,810.80 1086.66,803.02 1090.84,825.54 1095.02,826.77 1099.21,835.72 1103.39,842.66 1107.58,850.70 1111.76,851.19 1115.94,846.83 1120.13,836.33 1124.31,837.89 1128.49,838.71 1132.68,820.22 1136.86,811.52 1141.05,799.27 1145.23,810.29 1149.41,824.21 1153.60,803.25" fill="none" stroke="#7e57c2" stroke-width="1.6" stroke-linejoin="round"/>
</g>
<g clip-path="url(#cMacd)">
<line x1="15" y1="987.5" x2="1479" y2="987.5" stroke="#787b86" stroke-opacity="0.6" stroke-width="1.2" stroke-dasharray="7 9.23"/>
<path d="M28 974.9V987.5M37 974.4V987.5M53 975.2V987.5M57 963.2V987.5M62 955.4V987.5M95 968.2V987.5M103 969.4V987.5M229 985.7V987.5M233 981.8V987.5M237 979.5V987.5M242 977.9V987.5M279 986.7V987.5M283 983.9V987.5M288 980.2V987.5M396 984.8V987.5M401 982.3V987.5M405 980.5V987.5M409 980.1V987.5M426 981.7V987.5M430 980.5V987.5M434 979.7V987.5M438 979.2V987.5M455 984.6V987.5M459 983.4V987.5M472 981.3V987.5M526 986.3V987.5M530 984.5V987.5M534 983.1V987.5M539 981.9V987.5M543 980.6V987.5M547 980.6V987.5M551 980.4V987.5M564 980.7V987.5M568 980.5V987.5M572 980.3V987.5M664 986.7V987.5M668 985.8V987.5M672 983.9V987.5M677 982.6V987.5M681 982.5V987.5M685 981.2V987.5M689 980.3V987.5M693 978.7V987.5M698 978.1V987.5M752 986.2V987.5M756 982.5V987.5M760 977.3V987.5M765 975.8V987.5M769 975.5V987.5M894 986.7V987.5M970 986.1V987.5M974 985.7V987.5M982 984.6V987.5M986 983.6V987.5M1003 984.7V987.5M1007 984.4V987.5M1011 983.2V987.5M1016 981.0V987.5M1020 979.6V987.5M1024 979.1V987.5M1028 978.9V987.5M1036 979.0V987.5M1041 979.0V987.5M1045 978.9V987.5M1053 979.1V987.5M1057 978.9V987.5M1141 986.1V987.5M1145 985.3V987.5M1154 984.5V987.5" stroke="#26a69a" stroke-width="2" fill="none"/>
<path d="M16 972.8V987.5M20 976.7V987.5M24 977.5V987.5M32 976.1V987.5M41 975.2V987.5M45 977.1V987.5M49 978.1V987.5M66 956.1V987.5M70 959.8V987.5M74 961.9V987.5M78 964.1V987.5M83 965.1V987.5M87 967.9V987.5M91 969.6V987.5M99 970.4V987.5M108 971.4V987.5M112 972.8V987.5M116 975.8V987.5M120 980.5V987.5M246 981.6V987.5M250 985.5V987.5M292 980.8V987.5M296 986.1V987.5M413 980.7V987.5M417 980.9V987.5M421 981.7V987.5M442 979.9V987.5M447 983.6V987.5M451 984.7V987.5M463 983.8V987.5M467 984.1V987.5M476 984.1V987.5M480 986.5V987.5M484 986.7V987.5M488 987.3V987.5M493 987.5V987.5M555 980.6V987.5M560 981.2V987.5M576 980.9V987.5M580 983.5V987.5M585 986.5V987.5M702 978.1V987.5M706 979.7V987.5M710 980.4V987.5M714 981.7V987.5M718 983.2V987.5M723 983.8V987.5M727 984.2V987.5M731 985.5V987.5M735 987.1V987.5M773 975.8V987.5M777 977.8V987.5M781 981.0V987.5M785 983.5V987.5M790 986.6V987.5M978 986.0V987.5M990 984.3V987.5M995 984.6V987.5M999 984.7V987.5M1032 979.3V987.5M1049 979.5V987.5M1062 979.1V987.5M1066 979.7V987.5M1070 983.2V987.5M1074 986.3V987.5M1149 986.0V987.5" stroke="#b2dfdb" stroke-width="2" fill="none"/>
<path d="M124 987.5V996.4M129 987.5V1007.4M133 987.5V1010.8M137 987.5V1012.3M141 987.5V1012.6M145 987.5V1015.4M158 987.5V1014.3M162 987.5V1018.9M166 987.5V1025.0M170 987.5V1025.4M175 987.5V1025.8M254 987.5V989.2M258 987.5V990.3M262 987.5V990.4M267 987.5V990.8M271 987.5V992.1M300 987.5V988.6M308 987.5V989.0M313 987.5V989.7M317 987.5V989.8M325 987.5V990.4M329 987.5V991.7M334 987.5V994.0M338 987.5V994.2M350 987.5V988.4M355 987.5V992.6M359 987.5V994.6M363 987.5V997.8M367 987.5V999.2M371 987.5V1000.4M497 987.5V988.3M501 987.5V990.2M505 987.5V992.0M589 987.5V988.4M593 987.5V989.8M601 987.5V990.5M614 987.5V990.2M618 987.5V991.7M622 987.5V992.9M626 987.5V994.7M635 987.5V993.7M656 987.5V987.9M739 987.5V988.2M744 987.5V988.7M748 987.5V988.8M794 987.5V987.7M798 987.5V989.6M802 987.5V990.5M806 987.5V990.7M815 987.5V991.1M819 987.5V992.0M823 987.5V992.6M827 987.5V993.4M831 987.5V993.4M840 987.5V993.7M844 987.5V995.9M848 987.5V996.5M869 987.5V995.1M898 987.5V987.8M903 987.5V988.6M907 987.5V989.2M911 987.5V989.5M919 987.5V989.8M923 987.5V990.4M928 987.5V990.9M932 987.5V991.5M936 987.5V992.3M940 987.5V993.3M1078 987.5V988.1M1082 987.5V988.9M1091 987.5V990.5M1095 987.5V991.7M1099 987.5V993.1M1103 987.5V994.4M1108 987.5V995.8M1112 987.5V996.4" stroke="#ff5252" stroke-width="2" fill="none"/>
<path d="M150 987.5V1013.8M154 987.5V1013.6M179 987.5V1025.0M183 987.5V1019.6M187 987.5V1013.7M191 987.5V1008.8M196 987.5V1008.1M200 987.5V1006.4M204 987.5V1003.3M208 987.5V1001.9M212 987.5V1001.1M216 987.5V999.8M221 987.5V995.8M225 987.5V992.0M275 987.5V990.9M304 987.5V988.5M321 987.5V989.8M342 987.5V991.5M346 987.5V988.2M375 987.5V999.5M380 987.5V997.0M384 987.5V994.3M388 987.5V991.6M392 987.5V989.2M509 987.5V991.7M513 987.5V991.5M518 987.5V990.8M522 987.5V988.8M597 987.5V989.5M606 987.5V990.4M610 987.5V990.0M631 987.5V993.6M639 987.5V992.7M643 987.5V990.6M647 987.5V989.0M652 987.5V987.8M660 987.5V987.5M811 987.5V989.5M836 987.5V993.0M852 987.5V996.5M857 987.5V995.6M861 987.5V994.5M865 987.5V994.3M873 987.5V994.8M877 987.5V993.3M882 987.5V991.8M886 987.5V989.9M890 987.5V987.7M915 987.5V989.2M944 987.5V992.0M949 987.5V990.5M953 987.5V989.8M957 987.5V989.4M961 987.5V988.6M965 987.5V987.7M1087 987.5V988.8M1116 987.5V996.1M1120 987.5V994.8M1124 987.5V993.7M1128 987.5V992.8M1133 987.5V990.7M1137 987.5V988.6" stroke="#ffcdd2" stroke-width="2" fill="none"/>
<polyline points="15.63,977.81 19.81,975.12 24.00,972.63 28.18,969.47 32.36,966.63 36.55,963.35 40.73,960.27 44.92,957.67 49.10,955.31 53.28,952.24 57.47,946.15 61.65,938.13 65.83,930.29 70.02,923.36 74.20,916.96 78.39,911.11 82.57,905.50 86.75,900.59 90.94,896.11 95.12,891.29 99.30,887.01 103.49,882.49 107.67,878.46 111.86,874.79 116.04,871.85 120.22,870.12 124.41,872.34 128.59,877.31 132.77,883.14 136.96,889.33 141.14,895.60 145.32,902.58 149.51,909.16 153.69,915.69 157.88,922.40 162.06,930.26 166.24,939.63 170.43,949.09 174.61,958.67 178.79,968.04 182.98,976.07 187.16,982.63 191.35,987.95 195.53,993.10 199.71,997.82 203.90,1001.77 208.08,1005.37 212.26,1008.76 216.45,1011.82 220.63,1013.89 224.81,1015.01 229.00,1014.55 233.18,1013.13 237.37,1011.12 241.55,1008.71 245.73,1007.24 249.92,1006.74 254.10,1007.17 258.28,1007.86 262.47,1008.58 266.65,1009.41 270.84,1010.55 275.02,1011.41 279.20,1011.21 283.39,1010.30 287.57,1008.49 291.75,1006.81 295.94,1006.46 300.12,1006.73 304.31,1006.97 308.49,1007.35 312.67,1007.90 316.86,1008.48 321.04,1009.06 325.22,1009.77 329.41,1010.82 333.59,1012.44 337.77,1014.11 341.96,1015.10 346.14,1015.27 350.33,1015.49 354.51,1016.78 358.69,1018.55 362.88,1021.12 367.06,1024.05 371.24,1027.27 375.43,1030.27 379.61,1032.65 383.80,1034.36 387.98,1035.39 392.16,1035.81 396.35,1035.15 400.53,1033.84 404.71,1032.09 408.90,1030.23 413.08,1028.54 417.27,1026.90 421.45,1025.45 425.63,1023.99 429.82,1022.24 434.00,1020.28 438.18,1018.21 442.37,1016.30 446.55,1015.33 450.73,1014.63 454.92,1013.91 459.10,1012.88 463.29,1011.95 467.47,1011.11 471.65,1009.58 475.84,1008.73 480.02,1008.48 484.20,1008.29 488.39,1008.24 492.57,1008.23 496.76,1008.44 500.94,1009.12 505.12,1010.26 509.31,1011.31 513.49,1012.30 517.67,1013.12 521.86,1013.45 526.04,1013.14 530.23,1012.38 534.41,1011.28 538.59,1009.89 542.78,1008.17 546.96,1006.44 551.14,1004.67 555.33,1002.95 559.51,1001.37 563.69,999.68 567.88,997.94 572.06,996.14 576.25,994.50 580.43,993.50 584.61,993.24 588.80,993.46 592.98,994.04 597.16,994.54 601.35,995.28 605.53,996.01 609.72,996.63 613.90,997.30 618.08,998.37 622.27,999.72 626.45,1001.53 630.63,1003.06 634.82,1004.62 639.00,1005.91 643.18,1006.68 647.37,1007.07 651.55,1007.13 655.74,1007.22 659.92,1007.23 664.10,1007.04 668.29,1006.62 672.47,1005.71 676.65,1004.49 680.84,1003.23 685.02,1001.66 689.21,999.86 693.39,997.66 697.57,995.30 701.76,992.94 705.94,990.99 710.12,989.22 714.31,987.76 718.49,986.68 722.68,985.76 726.86,984.93 731.04,984.44 735.23,984.35 739.41,984.53 743.59,984.83 747.78,985.16 751.96,984.83 756.14,983.57 760.33,981.04 764.51,978.10 768.70,975.11 772.88,972.18 777.06,969.77 781.25,968.15 785.43,967.15 789.61,966.93 793.80,966.98 797.98,967.49 802.17,968.24 806.35,969.03 810.53,969.53 814.72,970.43 818.90,971.56 823.08,972.84 827.27,974.30 831.45,975.78 835.64,977.15 839.82,978.71 844.00,980.80 848.19,983.05 852.37,985.29 856.55,987.33 860.74,989.07 864.92,990.79 869.10,992.68 873.29,994.50 877.47,995.95 881.66,997.03 885.84,997.64 890.02,997.70 894.21,997.51 898.39,997.58 902.57,997.86 906.76,998.29 910.94,998.80 915.13,999.22 919.31,999.80 923.49,1000.52 927.68,1001.36 931.86,1002.38 936.04,1003.57 940.23,1005.03 944.41,1006.16 948.60,1006.92 952.78,1007.49 956.96,1007.97 961.15,1008.26 965.33,1008.30 969.51,1007.95 973.70,1007.51 977.88,1007.13 982.06,1006.41 986.25,1005.43 990.43,1004.62 994.62,1003.89 998.80,1003.20 1002.98,1002.50 1007.17,1001.73 1011.35,1000.67 1015.53,999.05 1019.72,997.07 1023.90,994.98 1028.09,992.83 1032.27,990.77 1036.45,988.65 1040.64,986.53 1044.82,984.39 1049.00,982.39 1053.19,980.27 1057.37,978.13 1061.56,976.04 1065.74,974.09 1069.92,973.01 1074.11,972.72 1078.29,972.86 1082.47,973.21 1086.66,973.54 1090.84,974.29 1095.02,975.33 1099.21,976.72 1103.39,978.45 1107.58,980.54 1111.76,982.77 1115.94,984.91 1120.13,986.74 1124.31,988.30 1128.49,989.63 1132.68,990.44 1136.86,990.71 1141.05,990.36 1145.23,989.81 1149.41,989.43 1153.60,988.68" fill="none" stroke="#ff6d00" stroke-width="1.6" stroke-linejoin="round"/>
<polyline points="15.63,963.14 19.81,964.35 24.00,962.67 28.18,956.85 32.36,955.28 36.55,950.23 40.73,947.92 44.92,947.30 49.10,945.87 53.28,939.94 57.47,921.81 61.65,906.04 65.83,898.91 70.02,895.65 74.20,891.34 78.39,887.74 82.57,883.08 86.75,880.95 90.94,878.19 95.12,871.98 99.30,869.93 103.49,864.37 107.67,862.34 111.86,860.10 116.04,860.13 120.22,863.16 124.41,881.24 128.59,897.20 132.77,906.43 136.96,914.10 141.14,920.70 145.32,930.50 149.51,935.45 153.69,941.84 157.88,949.24 162.06,961.70 166.24,977.09 170.43,986.95 174.61,996.95 178.79,1005.55 182.98,1008.17 187.16,1008.86 191.35,1009.24 195.53,1013.70 199.71,1016.70 203.90,1017.56 208.08,1019.79 212.26,1022.32 216.45,1024.08 220.63,1022.16 224.81,1019.51 229.00,1012.70 233.18,1007.42 237.37,1003.12 241.55,999.07 245.73,1001.35 249.92,1004.74 254.10,1008.89 258.28,1010.62 262.47,1011.47 266.65,1012.70 270.84,1015.15 275.02,1014.81 279.20,1010.45 283.39,1006.67 287.57,1001.22 291.75,1000.09 295.94,1005.04 300.12,1007.82 304.31,1007.95 308.49,1008.86 312.67,1010.10 316.86,1010.82 321.04,1011.36 325.22,1012.64 329.41,1015.00 333.59,1018.93 337.77,1020.78 341.96,1019.06 346.14,1015.96 350.33,1016.38 354.51,1021.93 358.69,1025.63 362.88,1031.39 367.06,1035.77 371.24,1040.18 375.43,1042.27 379.61,1042.14 383.80,1041.19 387.98,1039.51 392.16,1037.51 396.35,1032.49 400.53,1028.60 404.71,1025.10 408.90,1022.81 413.08,1021.75 417.27,1020.33 421.45,1019.65 425.63,1018.14 429.82,1015.26 434.00,1012.44 438.18,1009.94 442.37,1008.65 446.55,1011.45 450.73,1011.85 454.92,1011.04 459.10,1008.73 463.29,1008.25 467.47,1007.76 471.65,1003.43 475.84,1005.33 480.02,1007.51 484.20,1007.52 488.39,1008.06 492.57,1008.20 496.76,1009.26 500.94,1011.87 505.12,1014.78 509.31,1015.53 513.49,1016.28 517.67,1016.39 521.86,1014.76 526.04,1011.90 530.23,1009.34 534.41,1006.90 538.59,1004.31 542.78,1001.31 546.96,999.53 551.14,997.56 555.33,996.10 559.51,995.05 563.69,992.91 567.88,990.96 572.06,988.98 576.25,987.91 580.43,989.49 584.61,992.21 588.80,994.36 592.98,996.33 597.16,996.52 601.35,998.28 605.53,998.91 609.72,999.11 613.90,1000.01 618.08,1002.61 622.27,1005.15 626.45,1008.75 630.63,1009.21 634.82,1010.82 639.00,1011.11 643.18,1009.74 647.37,1008.61 651.55,1007.40 655.74,1007.59 659.92,1007.27 664.10,1006.27 668.29,1004.94 672.47,1002.06 676.65,999.60 680.84,998.23 685.02,995.38 689.21,992.62 693.39,988.88 697.57,985.85 701.76,983.49 705.94,983.18 710.12,982.16 714.31,981.91 718.49,982.36 722.68,982.08 726.86,981.62 731.04,982.46 735.23,983.99 739.41,985.26 743.59,986.01 747.78,986.48 751.96,983.50 756.14,978.56 760.33,970.88 764.51,966.38 768.70,963.15 772.88,960.46 777.06,960.11 781.25,961.66 785.43,963.17 789.61,966.02 793.80,967.18 797.98,969.54 802.17,971.25 806.35,972.21 810.53,971.50 814.72,974.05 818.90,976.09 823.08,977.93 827.27,980.15 831.45,981.69 835.64,982.62 839.82,984.95 844.00,989.16 848.19,992.09 852.37,994.25 856.55,995.46 860.74,996.06 864.92,997.63 869.10,1000.26 873.29,1001.78 877.47,1001.75 881.66,1001.35 885.84,1000.09 890.02,997.95 894.21,996.74 898.39,997.86 902.57,999.00 906.76,1000.02 910.94,1000.84 915.13,1000.91 919.31,1002.11 923.49,1003.38 927.68,1004.75 931.86,1006.43 936.04,1008.36 940.23,1010.88 944.41,1010.67 948.60,1009.95 952.78,1009.80 956.96,1009.88 961.15,1009.40 965.33,1008.48 969.51,1006.53 973.70,1005.74 977.88,1005.65 982.06,1003.51 986.25,1001.50 990.43,1001.37 994.62,1000.99 998.80,1000.43 1002.98,999.68 1007.17,998.68 1011.35,996.41 1015.53,992.57 1019.72,989.17 1023.90,986.62 1028.09,984.22 1032.27,982.56 1036.45,980.17 1040.64,978.04 1044.82,975.82 1049.00,974.38 1053.19,971.83 1057.37,969.55 1061.56,967.68 1065.74,966.29 1069.92,968.70 1074.11,971.53 1078.29,973.42 1082.47,974.62 1086.66,974.86 1090.84,977.32 1095.02,979.50 1099.21,982.28 1103.39,985.37 1107.58,988.88 1111.76,991.68 1115.94,993.50 1120.13,994.03 1124.31,994.54 1128.49,994.94 1132.68,993.68 1136.86,991.80 1141.05,988.94 1145.23,987.61 1149.41,987.90 1153.60,985.67" fill="none" stroke="#2962ff" stroke-width="1.6" stroke-linejoin="round"/>
</g>
<text y="68.75" font-size="16.2" fill="#131722" stroke="#131722" stroke-width="0.25"><tspan x="27.9" textLength="35" lengthAdjust="spacingAndGlyphs">DOT</tspan><tspan x="70.2" font-size="17.5">/</tspan><tspan x="82.1" textLength="73.5" lengthAdjust="spacingAndGlyphs">TetherUS</tspan><tspan x="173.1" textLength="19.3" lengthAdjust="spacingAndGlyphs">1D</tspan><tspan x="209.9" textLength="75.2" lengthAdjust="spacingAndGlyphs">BINANCE</tspan><tspan x="296.5" textLength="61.5" lengthAdjust="spacingAndGlyphs">O3.854</tspan><tspan x="369" textLength="60" lengthAdjust="spacingAndGlyphs">H4.234</tspan><tspan x="441" textLength="56.5" lengthAdjust="spacingAndGlyphs">L3.837</tspan><tspan x="509" textLength="56" lengthAdjust="spacingAndGlyphs">C4.167</tspan></text>
<text y="68.75" font-size="16.2" fill="#131722" text-anchor="middle" stroke="#131722" stroke-width="0.25"><tspan x="164.4">·</tspan><tspan x="201">·</tspan></text>
<text y="765.7" font-size="16.6"><tspan x="27.7" fill="#131722" textLength="116.5" lengthAdjust="spacingAndGlyphs" stroke="#131722" stroke-width="0.25">RSI (14, close)</tspan><tspan x="157.2" fill="#7e57c2" textLength="42.2" lengthAdjust="spacingAndGlyphs" stroke="#7e57c2" stroke-width="0.25">57.57</tspan><tspan x="211.6" fill="#fdd835" textLength="47.1" lengthAdjust="spacingAndGlyphs" stroke="#fdd835" stroke-width="0.25">46.53</tspan></text>
<text y="920.6" font-size="16.6"><tspan x="27.3" fill="#131722" textLength="173" lengthAdjust="spacingAndGlyphs" stroke="#131722" stroke-width="0.25">MACD (12, 26, close)</tspan><tspan x="213.3" fill="#26a69a" textLength="46.4" lengthAdjust="spacingAndGlyphs" stroke="#26a69a" stroke-width="0.25">0.033</tspan><tspan x="271" fill="#2962ff" textLength="44.5" lengthAdjust="spacingAndGlyphs" stroke="#2962ff" stroke-width="0.25">0.019</tspan><tspan x="326" fill="#ff6d00" textLength="56" lengthAdjust="spacingAndGlyphs" stroke="#ff6d00" stroke-width="0.25">−0.013</tspan></text>
<text x="1493.5" y="119.5" font-size="17.5" fill="#131722" textLength="58" lengthAdjust="spacingAndGlyphs" stroke="#131722" stroke-width="0.25">14.000</text>
<text x="1493.5" y="164.8" font-size="17.5" fill="#131722" textLength="58" lengthAdjust="spacingAndGlyphs" stroke="#131722" stroke-width="0.25">13.000</text>
<text x="1493.5" y="210.0" font-size="17.5" fill="#131722" textLength="58" lengthAdjust="spacingAndGlyphs" stroke="#131722" stroke-width="0.25">12.000</text>
<text x="1493.5" y="255.3" font-size="17.5" fill="#131722" textLength="58" lengthAdjust="spacingAndGlyphs" stroke="#131722" stroke-width="0.25">11.000</text>
<text x="1493.5" y="300.5" font-size="17.5" fill="#131722" textLength="58" lengthAdjust="spacingAndGlyphs" stroke="#131722" stroke-width="0.25">10.000</text>
<text x="1493.5" y="345.7" font-size="17.5" fill="#131722" textLength="47.5" lengthAdjust="spacingAndGlyphs" stroke="#131722" stroke-width="0.25">9.000</text>
<text x="1493.5" y="436.2" font-size="17.5" fill="#131722" textLength="47.5" lengthAdjust="spacingAndGlyphs" stroke="#131722" stroke-width="0.25">7.000</text>
<text x="1493.5" y="481.5" font-size="17.5" fill="#131722" textLength="47.5" lengthAdjust="spacingAndGlyphs" stroke="#131722" stroke-width="0.25">6.000</text>
<text x="1493.5" y="526.7" font-size="17.5" fill="#131722" textLength="47.5" lengthAdjust="spacingAndGlyphs" stroke="#131722" stroke-width="0.25">5.000</text>
<text x="1493.5" y="617.2" font-size="17.5" fill="#131722" textLength="47.5" lengthAdjust="spacingAndGlyphs" stroke="#131722" stroke-width="0.25">3.000</text>
<text x="1493.5" y="662.4" font-size="17.5" fill="#131722" textLength="47.5" lengthAdjust="spacingAndGlyphs" stroke="#131722" stroke-width="0.25">2.000</text>
<text x="1493.5" y="707.7" font-size="17.5" fill="#131722" textLength="47.5" lengthAdjust="spacingAndGlyphs" stroke="#131722" stroke-width="0.25">1.000</text>
<path d="M1480 207.5H1558.5Q1561.5 207.5 1561.5 210.5V229.5Q1561.5 232.5 1558.5 232.5H1480Z" fill="#000"/><text x="1493.5" y="226.0" font-size="17.5" fill="#fff" textLength="58" lengthAdjust="spacingAndGlyphs" stroke="#fff" stroke-width="0.25">11.640</text>
<path d="M1480 370H1547Q1550 370 1550 373V392Q1550 395 1547 395H1480Z" fill="#000"/><text x="1493.5" y="388.5" font-size="17.5" fill="#fff" textLength="47.7" lengthAdjust="spacingAndGlyphs" stroke="#fff" stroke-width="0.25">8.044</text>
<path d="M1480 491.5H1547Q1550 491.5 1550 494.5V513.5Q1550 516.5 1547 516.5H1480Z" fill="#000"/><text x="1493.5" y="510.0" font-size="17.5" fill="#fff" textLength="47.7" lengthAdjust="spacingAndGlyphs" stroke="#fff" stroke-width="0.25">5.362</text>
<path d="M1480 545H1575Q1578 545 1578 548V588Q1578 591 1575 591H1480Z" fill="#00bcd4"/>
<text x="1493" y="564" font-size="17.5" fill="#000" textLength="47" lengthAdjust="spacingAndGlyphs" stroke="#000" stroke-width="0.25">4.167</text>
<text x="1493.5" y="584.5" font-size="17.5" fill="#000" textLength="74.5" lengthAdjust="spacingAndGlyphs" stroke="#000" stroke-width="0.25">06:02:38</text>
<text x="1493.5" y="772.8" font-size="17.5" fill="#131722" textLength="47.5" lengthAdjust="spacingAndGlyphs" stroke="#131722" stroke-width="0.25">75.00</text>
<text x="1493.5" y="882.5" font-size="17.5" fill="#131722" textLength="47.5" lengthAdjust="spacingAndGlyphs" stroke="#131722" stroke-width="0.25">25.00</text>
<path d="M1480 792.2H1547Q1550 792.2 1550 795.2V813.7Q1550 816.7 1547 816.7H1480Z" fill="#7e57c2"/><text x="1493.5" y="810.5" font-size="17.5" fill="#fff" textLength="47.5" lengthAdjust="spacingAndGlyphs" stroke="#fff" stroke-width="0.25">57.57</text>
<path d="M1480 816.7H1547Q1550 816.7 1550 819.7V839Q1550 842 1547 842H1480Z" fill="#fdd835"/><text x="1493.5" y="835.4" font-size="17.5" fill="#000" textLength="47.5" lengthAdjust="spacingAndGlyphs" stroke="#000" stroke-width="0.25">46.53</text>
<g clip-path="url(#cMacdAx)"><text x="1493.5" y="900.0" font-size="17.5" fill="#131722" textLength="47.5" lengthAdjust="spacingAndGlyphs" stroke="#131722" stroke-width="0.25">1.000</text></g>
<text x="1493.5" y="947.0" font-size="17.5" fill="#131722" textLength="47.5" lengthAdjust="spacingAndGlyphs" stroke="#131722" stroke-width="0.25">0.500</text>
<path d="M1480 972H1546.8Q1549.8 972 1549.8 975V994Q1549.8 997 1546.8 997H1480Z" fill="#26a69a"/><text x="1493.5" y="990.5" font-size="17.5" fill="#fff" textLength="47.5" lengthAdjust="spacingAndGlyphs" stroke="#fff" stroke-width="0.25">0.033</text>
<path d="M1480 997H1546.8Q1549.8 997 1549.8 1000V1018.7Q1549.8 1021.7 1546.8 1021.7H1480Z" fill="#2962ff"/><text x="1493.5" y="1015.4" font-size="17.5" fill="#fff" textLength="47.5" lengthAdjust="spacingAndGlyphs" stroke="#fff" stroke-width="0.25">0.019</text>
<path d="M1480 1022H1558.7Q1561.7 1022 1561.7 1025V1044.8H1480Z" fill="#ff6d00"/>
<text x="1493.2" y="1040.6" font-size="17.5" fill="#fff" textLength="59" lengthAdjust="spacingAndGlyphs" stroke="#fff" stroke-width="0.25">−0.013</text>
<text x="91.1" y="1073.4" font-size="17.5" fill="#131722" text-anchor="middle" stroke="#131722" stroke-width="0.25">Dec</text>
<text x="220.8" y="1073.4" font-size="17.5" fill="#131722" text-anchor="middle" font-weight="bold" textLength="46" lengthAdjust="spacingAndGlyphs" stroke="#131722" stroke-width="0.25">2025</text>
<text x="350.3" y="1073.4" font-size="17.5" fill="#131722" text-anchor="middle" stroke="#131722" stroke-width="0.25">Feb</text>
<text x="467.5" y="1073.4" font-size="17.5" fill="#131722" text-anchor="middle" stroke="#131722" stroke-width="0.25">Mar</text>
<text x="597.2" y="1073.4" font-size="17.5" fill="#131722" text-anchor="middle" stroke="#131722" stroke-width="0.25">Apr</text>
<text x="722.7" y="1073.4" font-size="17.5" fill="#131722" text-anchor="middle" stroke="#131722" stroke-width="0.25">May</text>
<text x="852.4" y="1073.4" font-size="17.5" fill="#131722" text-anchor="middle" stroke="#131722" stroke-width="0.25">Jun</text>
<text x="978.0" y="1073.4" font-size="17.5" fill="#131722" text-anchor="middle" stroke="#131722" stroke-width="0.25">Jul</text>
<text x="1107.6" y="1073.4" font-size="17.5" fill="#131722" text-anchor="middle" stroke="#131722" stroke-width="0.25">Aug</text>
<text x="1237.3" y="1073.4" font-size="17.5" fill="#131722" text-anchor="middle" stroke="#131722" stroke-width="0.25">Sep</text>
<text x="1362.8" y="1073.4" font-size="17.5" fill="#131722" text-anchor="middle" stroke="#131722" stroke-width="0.25">Oct</text>
<g transform="translate(1153.5 716.6)"><path d="M4.6 -13.7 A14.45 14.45 0 1 0 13.77 -4.39" fill="none" stroke="#9c27b0" stroke-width="1.8" stroke-linecap="round"/><circle cx="10.2" cy="-10.3" r="3.6" fill="#f23645"/><path d="M3.87 -7.05L-6.08 0.3L-1.1 0.3L-4.55 7.19L6.29 -0.47L1.4 -0.47Z" fill="#9c27b0" stroke="#9c27b0" stroke-width="1" stroke-linejoin="round"/></g>
<g fill="#111">
<path d="M17.94 1119.1H35V1140.7H26.75V1127.2H17.94Z"/>
<circle cx="42.7" cy="1123.25" r="4.3"/>
<path d="M51.5 1119.1H61.6L53 1140.7H43.06Z"/>
</g>
<text x="72.5" y="1141" font-size="30.5" font-weight="bold" fill="#111" textLength="178.1" lengthAdjust="spacingAndGlyphs">TradingView</text>
</svg>
</body></html>
